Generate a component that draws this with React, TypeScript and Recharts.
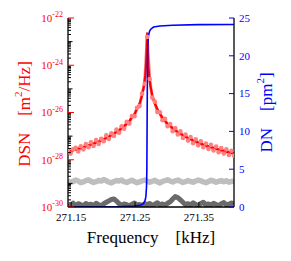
import { ComposedChart, Line, XAxis, YAxis } from 'recharts';

const RED = '#ff0000';
const PINK = '#ff8080';
const LIGHT_GRAY = '#bebebe';
const DARK_GRAY = '#6a6a6a';
const BLUE = '#0000ff';
const FONT = '"Liberation Serif", "Times New Roman", serif';

// measured spectra, frequency in kHz, DSN as log10(m^2/Hz)
const specFreq = [
  271.145, 271.149, 271.153, 271.157, 271.161, 271.165, 271.169, 271.173, 271.177, 271.181,
  271.185, 271.189, 271.193, 271.197, 271.201, 271.205, 271.209, 271.213, 271.217, 271.221,
  271.225, 271.229, 271.233, 271.237, 271.241, 271.245, 271.249, 271.253, 271.257, 271.261,
  271.265, 271.269, 271.273, 271.277, 271.281, 271.285, 271.289, 271.293, 271.297, 271.301,
  271.305, 271.309, 271.313, 271.317, 271.321, 271.325, 271.329, 271.333, 271.337, 271.341,
  271.345, 271.349, 271.353, 271.357, 271.361, 271.365, 271.369, 271.373, 271.377, 271.381,
  271.385, 271.389, 271.393, 271.397, 271.401, 271.405,
];

const dsnMeasuredLog = [
  -27.58, -27.74, -27.56, -27.49, -27.65, -27.43, -27.56, -27.34, -27.47, -27.26,
  -27.42, -27.17, -27.33, -27.11, -27.22, -26.96, -27.12, -26.88, -26.99, -26.72,
  -26.86, -26.58, -26.69, -26.39, -26.47, -26.15, -26.16, -25.8, -25.73, -25.2,
  -24.78, -22.8, -24.58, -25.37, -25.54, -25.98, -25.99, -26.33, -26.27, -26.58,
  -26.49, -26.79, -26.66, -26.93, -26.8, -27.08, -26.93, -27.19, -27.04, -27.3,
  -27.13, -27.39, -27.22, -27.47, -27.31, -27.54, -27.37, -27.61, -27.44, -27.68,
  -27.5, -27.74, -27.56, -27.8, -27.62, -27.82,
];

const dsnBackgroundLog = [
  -28.9, -28.95, -28.92, -28.86, -28.9, -28.97, -28.94, -28.88, -28.85, -28.91,
  -28.96, -28.93, -28.87, -28.9, -28.84, -28.89, -28.95, -28.98, -28.92, -28.88,
  -28.9, -28.86, -28.93, -28.96, -28.91, -28.87, -28.92, -28.97, -28.94, -28.89,
  -28.86, -28.9, -28.95, -28.91, -28.87, -28.93, -28.98, -28.92, -28.88, -28.85,
  -28.9, -28.94, -28.89, -28.86, -28.91, -28.96, -28.93, -28.88, -28.92, -28.95,
  -28.9, -28.86, -28.89, -28.94, -28.97, -28.92, -28.87, -28.9, -28.95, -28.91,
  -28.88, -28.93, -28.89, -28.95, -28.92, -28.89,
];

const dsnNoiseLog = [
  -29.88, -29.92, -29.84, -29.95, -29.86, -29.9, -29.97, -29.85, -29.91, -29.88,
  -29.94, -29.84, -29.9, -29.96, -29.86, -29.8, -29.74, -29.68, -29.66, -29.75,
  -29.86, -29.93, -29.87, -29.9, -29.97, -29.88, -29.83, -29.92, -29.89, -29.95,
  -29.86, -29.9, -29.85, -29.94, -29.88, -29.82, -29.91, -29.87, -29.93, -29.84,
  -29.78, -29.66, -29.56, -29.6, -29.7, -29.8, -29.9, -29.86, -29.93, -29.82,
  -29.89, -29.95, -29.85, -29.8, -29.91, -29.87, -29.92, -29.84, -29.89, -29.96,
  -29.86, -29.81, -29.91, -29.88, -29.83, -29.89,
];

// fitted resonance
const fitFreq = [
  271.145, 271.159, 271.179, 271.204, 271.224, 271.239, 271.249, 271.257, 271.261, 271.264,
  271.266, 271.267, 271.2675, 271.268, 271.2684, 271.2686, 271.2688, 271.2689, 271.269, 271.2691,
  271.2692, 271.2694, 271.2696, 271.27, 271.2705, 271.271, 271.272, 271.274, 271.277, 271.281,
  271.289, 271.299, 271.314, 271.334, 271.359, 271.379, 271.405,
];
const dsnFitLog = [
  -27.66, -27.55, -27.38, -27.1, -26.78, -26.43, -26.07, -25.63, -25.28, -24.87,
  -24.43, -24.09, -23.85, -23.53, -23.17, -22.95, -22.73, -22.65, -22.62, -22.65,
  -22.73, -22.95, -23.17, -23.53, -23.85, -24.09, -24.43, -24.87, -25.28, -25.63,
  -26.07, -26.43, -26.78, -27.1, -27.38, -27.55, -27.74,
];

// cumulative displacement noise (pm^2)
const dnFreq = [
  271.145, 271.189, 271.229, 271.249, 271.259, 271.263, 271.265, 271.266, 271.267, 271.268,
  271.2685, 271.269, 271.2695, 271.27, 271.271, 271.272, 271.273, 271.275, 271.279, 271.289,
  271.309, 271.349, 271.405,
];
const dnValues = [
  0, 0.01, 0.05, 0.12, 0.26, 0.45, 0.7, 0.95, 1.4, 2.7,
  4.9, 12.2, 19.5, 21.5, 22.6, 23.0, 23.3, 23.55, 23.8, 23.95,
  24.05, 24.12, 24.15,
];

const freqTicks = [271.15, 271.25, 271.35];
const dnTicks = [0, 5, 10, 15, 20, 25];
const dsnDecades = [-30, -29, -28, -27, -26, -25, -24, -23, -22];
const dsnMinorSteps = [2, 3, 4, 5, 6, 7, 8, 9];

const dsnTicks = [
  ...dsnDecades.map((d) => 10 ** d),
  ...dsnDecades.slice(0, -1).flatMap((d) => dsnMinorSteps.map((s) => s * 10 ** d)),
].sort((a, b) => a - b);

const measured = specFreq.map((f, i) => ({ f, dsn: 10 ** dsnMeasuredLog[i] }));
const background = specFreq.map((f, i) => ({ f, dsn: 10 ** dsnBackgroundLog[i] }));
const noise = specFreq.map((f, i) => ({ f, dsn: 10 ** dsnNoiseLog[i] }));
const fit = fitFreq.map((f, i) => ({ f, dsn: 10 ** dsnFitLog[i] }));
const dn = dnFreq.map((f, i) => ({ f, dn: dnValues[i] }));

function DsnTick({ x, y, payload }: any) {
  const e = Math.log10(payload.value);
  const n = Math.round(e);
  const decade = Math.abs(e - n) < 1e-6;
  const major = decade && n % 2 === 0;
  return (
    <g>
      <line x1={x} x2={x + (major ? 6 : decade ? 4.5 : 3)} y1={y} y2={y} stroke={major ? RED : '#000'} />
      {major && (
        <text x={x - 5} y={y + 3.8} textAnchor="end" fill={RED} fontSize={11} fontFamily={FONT}>
          10
          <tspan dy={-4.5} fontSize={8}>{`${n}`}</tspan>
        </text>
      )}
    </g>
  );
}

function DnTick({ x, y, payload }: any) {
  return (
    <g>
      <line x1={x - 5} x2={x} y1={y} y2={y} stroke={BLUE} />
      <text x={x + 5} y={y + 3.8} textAnchor="start" fill={BLUE} fontSize={11} fontFamily={FONT}>
        {payload.value}
      </text>
    </g>
  );
}

function FreqTick({ x, y, payload }: any) {
  return (
    <g>
      <line x1={x} x2={x} y1={y} y2={y - 5} stroke="#000" />
      <text x={x} y={y + 14} textAnchor="middle" fill="#000" fontSize={11} fontFamily={FONT}>
        {payload.value.toFixed(2)}
      </text>
    </g>
  );
}

function TopTick({ x, y }: any) {
  return <line x1={x} x2={x} y1={y} y2={y + 5} stroke="#000" />;
}

function FreqTitle(props: any) {
  const vb = props.viewBox ?? { x: 68, y: 207, width: 166, height: 54 };
  return (
    <text x={vb.x + vb.width / 2} y={vb.y + 36} textAnchor="middle" fill="#000" fontSize={17} fontFamily={FONT}>
      {'Frequency\u2003[kHz]'}
    </text>
  );
}

function DsnTitle(props: any) {
  const vb = props.viewBox ?? { x: 0, y: 18, width: 68, height: 189 };
  const cx = vb.x + 24;
  const cy = vb.y + vb.height / 2 + 1.5;
  return (
    <text
      x={cx}
      y={cy}
      transform={`rotate(-90 ${cx} ${cy})`}
      textAnchor="middle"
      dominantBaseline="central"
      fill={RED}
      fontSize={17}
      fontFamily={FONT}
    >
      <tspan>{'DSN\u2003[m'}</tspan>
      <tspan dy={-6} fontSize={11}>2</tspan>
      <tspan dy={6}>/Hz]</tspan>
    </text>
  );
}

function DnTitle(props: any) {
  const vb = props.viewBox ?? { x: 234, y: 18, width: 57, height: 189 };
  const cx = vb.x + 32;
  const cy = vb.y + vb.height / 2;
  return (
    <text
      x={cx}
      y={cy}
      transform={`rotate(-90 ${cx} ${cy})`}
      textAnchor="middle"
      dominantBaseline="central"
      fill={BLUE}
      fontSize={17}
      fontFamily={FONT}
    >
      <tspan>{'DN\u2003[pm'}</tspan>
      <tspan dy={-6} fontSize={11}>2</tspan>
      <tspan dy={6}>]</tspan>
    </text>
  );
}

export default function App() {
  const frame = { stroke: '#000', strokeWidth: 1.3 };
  return (
    <div style={{ position: 'absolute', left: 0, top: 0, width: 291, height: 261, background: '#fff' }}>
      <ComposedChart width={291} height={261} margin={{ top: 18, right: 0, bottom: 0, left: 0 }}>
        <XAxis
          dataKey="f"
          type="number"
          domain={[271.145, 271.405]}
          allowDataOverflow
          ticks={freqTicks}
          interval={0}
          height={54}
          tickSize={0}
          tickMargin={0}
          tickLine={false}
          axisLine={frame}
          tick={<FreqTick />}
          label={<FreqTitle />}
        />
        <XAxis
          xAxisId="top"
          orientation="top"
          dataKey="f"
          type="number"
          domain={[271.145, 271.405]}
          allowDataOverflow
          ticks={freqTicks}
          interval={0}
          height={0}
          tickSize={0}
          tickMargin={0}
          tickLine={false}
          axisLine={frame}
          tick={<TopTick />}
        />
        <YAxis
          yAxisId="left"
          type="number"
          scale="log"
          domain={[1e-30, 1e-22]}
          allowDataOverflow
          ticks={dsnTicks}
          interval={0}
          width={68}
          tickSize={0}
          tickMargin={0}
          tickLine={false}
          axisLine={frame}
          tick={<DsnTick />}
          label={<DsnTitle />}
        />
        <YAxis
          yAxisId="right"
          orientation="right"
          type="number"
          domain={[0, 25]}
          allowDataOverflow
          ticks={dnTicks}
          interval={0}
          width={57}
          tickSize={0}
          tickMargin={0}
          tickLine={false}
          axisLine={frame}
          tick={<DnTick />}
          label={<DnTitle />}
        />
        <Line
          yAxisId="left"
          data={noise}
          dataKey="dsn"
          type="linear"
          stroke={DARK_GRAY}
          strokeWidth={5}
          strokeLinejoin="round"
          dot={false}
          isAnimationActive={false}
        />
        <Line
          yAxisId="left"
          data={background}
          dataKey="dsn"
          type="linear"
          stroke={LIGHT_GRAY}
          strokeWidth={5.5}
          strokeLinejoin="round"
          dot={false}
          isAnimationActive={false}
        />
        <Line
          yAxisId="left"
          data={measured}
          dataKey="dsn"
          type="linear"
          stroke={PINK}
          strokeWidth={3}
          strokeLinejoin="round"
          dot={{ r: 2.3, fill: PINK, stroke: 'none' }}
          isAnimationActive={false}
        />
        <Line
          yAxisId="left"
          data={fit}
          dataKey="dsn"
          type="linear"
          stroke={RED}
          strokeWidth={2.2}
          dot={false}
          isAnimationActive={false}
        />
        <Line
          yAxisId="right"
          data={dn}
          dataKey="dn"
          type="linear"
          stroke={BLUE}
          strokeWidth={1.6}
          dot={false}
          isAnimationActive={false}
        />
      </ComposedChart>
    </div>
  );
}
